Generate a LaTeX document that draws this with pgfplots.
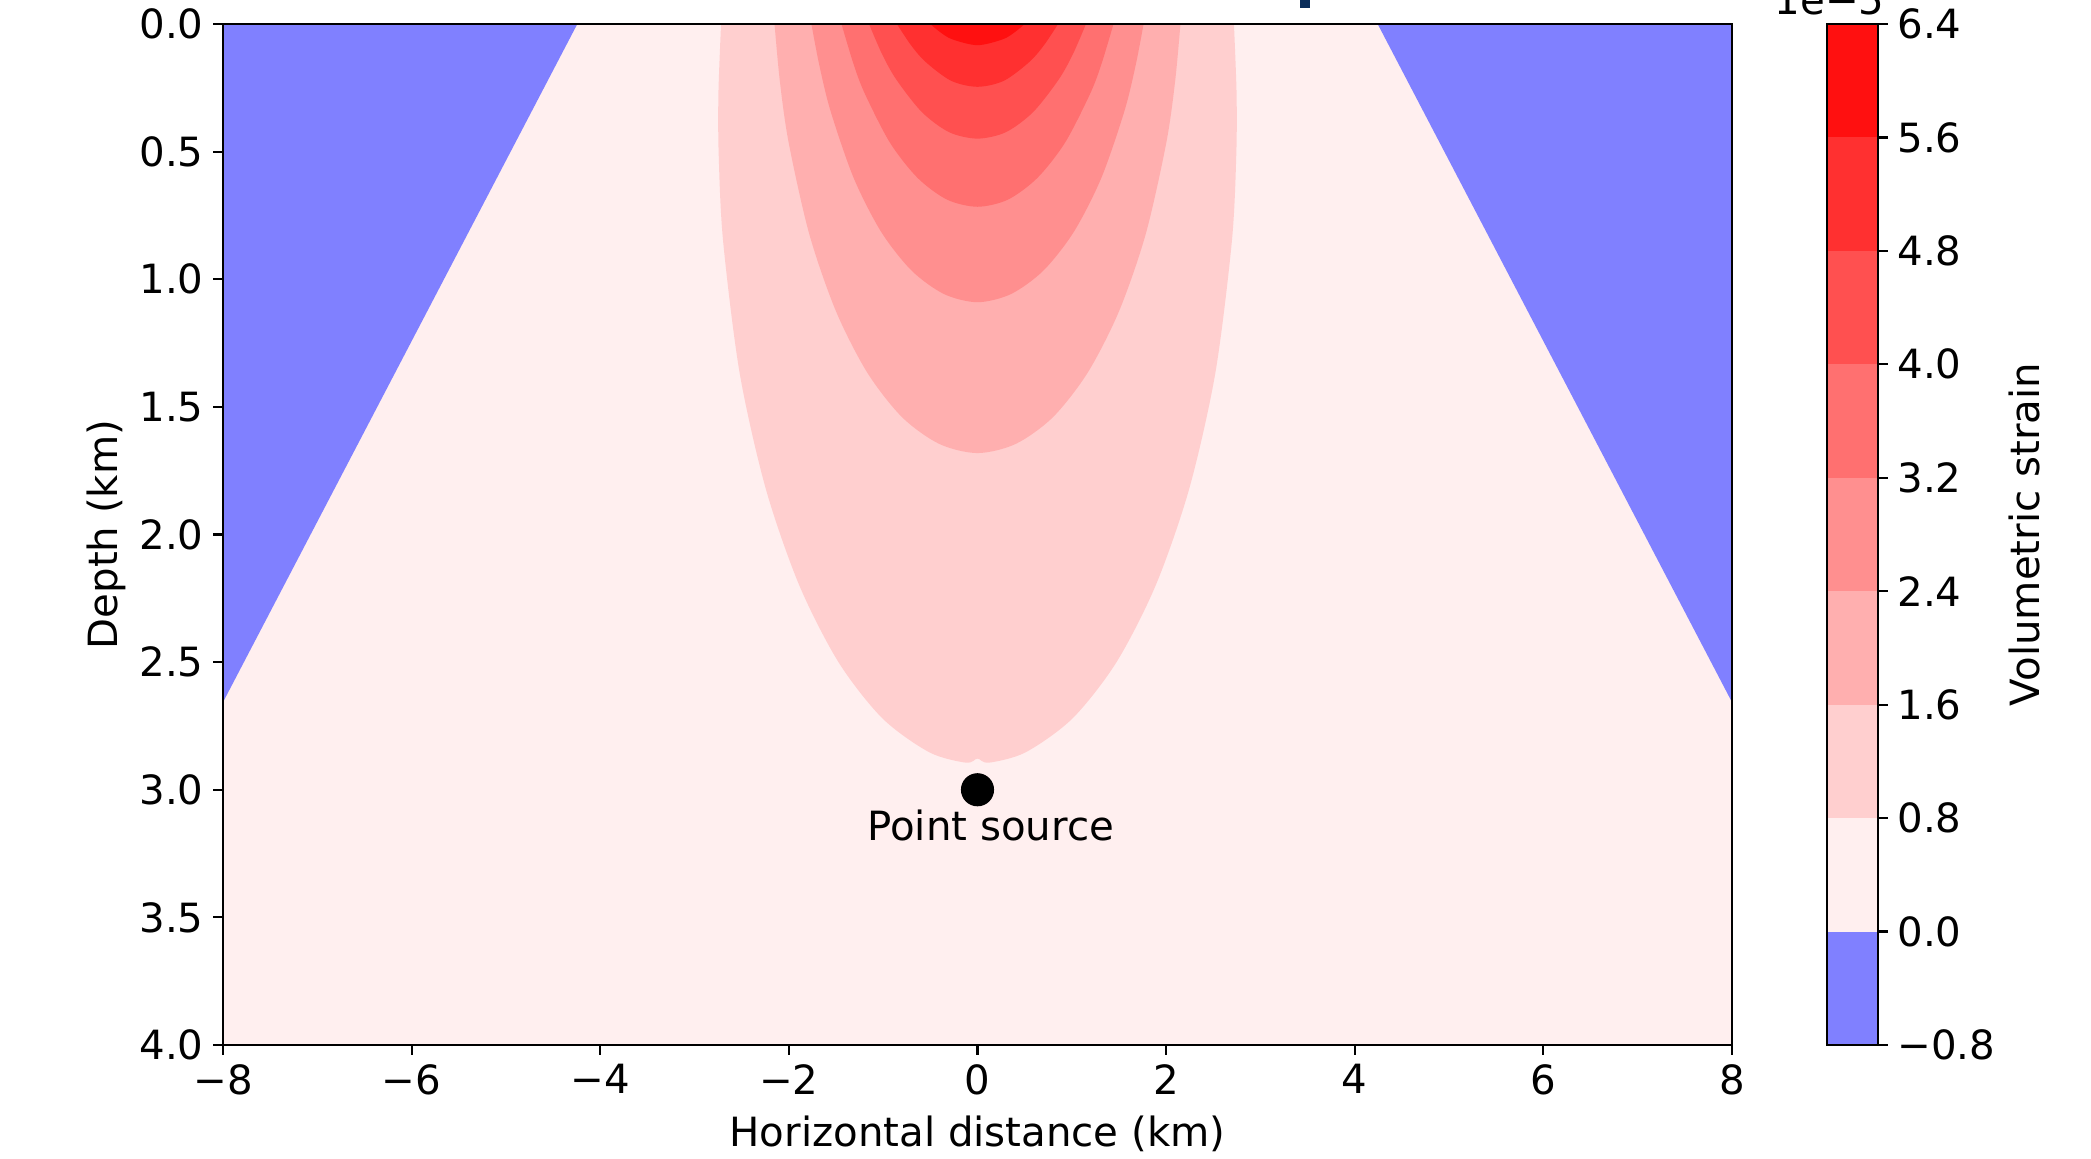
\documentclass[border=0pt]{standalone}
\usepackage{pgfplots}
\pgfplotsset{compat=1.18}
\usepackage{fontspec}
\setmainfont{DejaVu Sans}
\definecolor{cneg}{RGB}{128,128,255}
\definecolor{c0}{RGB}{255,239,239}
\definecolor{c1}{RGB}{255,207,207}
\definecolor{c2}{RGB}{255,175,175}
\definecolor{c3}{RGB}{255,143,143}
\definecolor{c4}{RGB}{255,112,112}
\definecolor{c5}{RGB}{255,80,80}
\definecolor{c6}{RGB}{255,48,48}
\definecolor{c7}{RGB}{255,16,16}
\definecolor{titlenavy}{RGB}{10,45,90}
\begin{document}
\begin{tikzpicture}[font=\fontsize{14.5pt}{17pt}\selectfont]
\useasboundingbox (-80.28pt,-41.04pt) rectangle (672.48pt,376.2pt);
\clip (-80.28pt,-41.04pt) rectangle (672.48pt,376.2pt);
\pgfplotsset{
  every axis/.append style={
    tick align=outside,
    major tick length=3.5pt,
    every tick/.style={black, line width=0.8pt},
    axis line style={black, line width=0.8pt},
  }
}
\begin{axis}[
  name=main,
  at={(0pt,0pt)}, anchor=south west,
  width=543.24pt, height=367.56pt, scale only axis,
  xmin=-8, xmax=8, ymin=0, ymax=4, y dir=reverse,
  axis background/.style={fill=c0},
  axis on top,
  xtick={-8,-6,-4,-2,0,2,4,6,8},
  xticklabels={−8,−6,−4,−2,0,2,4,6,8},
  ytick={0,0.5,1,1.5,2,2.5,3,3.5,4},
  yticklabels={0.0,0.5,1.0,1.5,2.0,2.5,3.0,3.5,4.0},
  xtick pos=bottom, ytick pos=left,
  xlabel={Horizontal distance (km)},
  ylabel={Depth (km)},
  every axis x label/.style={at={(axis description cs:0.5,-0.0867)}, anchor=center},
  every axis y label/.style={at={(axis description cs:-0.0771,0.5)}, rotate=90, anchor=center},
]
% negative strain (blue) wedges
\addplot[fill=cneg, draw=none] coordinates {(-8,0) (-4.243,0) (-8,2.657)};
\addplot[fill=cneg, draw=none] coordinates {(8,0) (4.243,0) (8,2.657)};
% level 0.8e-5
\addplot[fill=c1, draw=none, smooth] coordinates {
 (-2.719,0) (-2.747,0.273) (-2.744,0.512) (-2.697,0.852) (-2.522,1.367) (-2.247,1.818)
 (-1.892,2.197) (-1.474,2.500) (-1.009,2.720) (-0.512,2.853) (-0.12,2.894) (0,2.878)
 (0.12,2.894) (0.512,2.853) (1.009,2.720) (1.474,2.500) (1.892,2.197) (2.247,1.818)
 (2.522,1.367) (2.697,0.852) (2.744,0.512) (2.747,0.273) (2.719,0)};
% level 1.6e-5
\addplot[fill=c2, draw=none, smooth] coordinates {
 (-2.152,0) (-2.095,0.226) (-2.001,0.467) (-1.783,0.824) (-1.501,1.125) (-1.170,1.365)
 (-0.801,1.540) (-0.406,1.645) (0,1.681) (0.406,1.645) (0.801,1.540) (1.170,1.365)
 (1.501,1.125) (1.783,0.824) (2.001,0.467) (2.095,0.226) (2.152,0)};
% level 2.4e-5
\addplot[fill=c3, draw=none, smooth] coordinates {
 (-1.761,0) (-1.679,0.158) (-1.558,0.341) (-1.312,0.604) (-1.022,0.814) (-0.699,0.966)
 (-0.355,1.058) (0,1.090) (0.355,1.058) (0.699,0.966) (1.022,0.814) (1.312,0.604)
 (1.558,0.341) (1.679,0.158) (1.761,0)};
% level 3.2e-5
\addplot[fill=c4, draw=none, smooth] coordinates {
 (-1.442,0) (-1.310,0.162) (-1.192,0.275) (-0.928,0.465) (-0.635,0.603) (-0.323,0.688)
 (0,0.716) (0.323,0.688) (0.635,0.603) (0.928,0.465) (1.192,0.275) (1.310,0.162) (1.442,0)};
% level 4.0e-5
\addplot[fill=c5, draw=none, smooth] coordinates {
 (-1.150,0) (-1.013,0.117) (-0.862,0.217) (-0.590,0.345) (-0.300,0.424) (0,0.449)
 (0.300,0.424) (0.590,0.345) (0.862,0.217) (1.013,0.117) (1.150,0)};
% level 4.8e-5
\addplot[fill=c6, draw=none, smooth] coordinates {
 (-0.854,0) (-0.711,0.080) (-0.555,0.147) (-0.282,0.222) (0,0.246)
 (0.282,0.222) (0.555,0.147) (0.711,0.080) (0.854,0)};
% level 5.6e-5
\addplot[fill=c7, draw=none, smooth] coordinates {
 (-0.500,0) (-0.399,0.031) (-0.268,0.060) (0,0.083) (0.268,0.060) (0.399,0.031) (0.500,0)};
% point source
\addplot[only marks, mark=*, mark size=5.76pt, mark options={fill=black, draw=black}] coordinates {(0,3)};
\node[anchor=base] at (axis cs:0.14,3.2) {Point source};
\end{axis}
\begin{axis}[
  at={(577.44pt,0pt)}, anchor=south west,
  width=18.36pt, height=367.56pt, scale only axis,
  xmin=0, xmax=1, ymin=-0.8, ymax=6.4,
  xtick=\empty,
  ytick={-0.8,0,0.8,1.6,2.4,3.2,4.0,4.8,5.6,6.4},
  yticklabels={−0.8,0.0,0.8,1.6,2.4,3.2,4.0,4.8,5.6,6.4},
  ytick pos=right, yticklabel pos=right,
  axis on top,
  ylabel={Volumetric strain},
  every axis y label/.style={at={(axis description cs:3.88,0.5)}, rotate=90, anchor=center},
]
\addplot[fill=cneg, draw=none] coordinates {(0,-0.8) (1,-0.8) (1,0) (0,0)};
\addplot[fill=c0, draw=none] coordinates {(0,0) (1,0) (1,0.8) (0,0.8)};
\addplot[fill=c1, draw=none] coordinates {(0,0.8) (1,0.8) (1,1.6) (0,1.6)};
\addplot[fill=c2, draw=none] coordinates {(0,1.6) (1,1.6) (1,2.4) (0,2.4)};
\addplot[fill=c3, draw=none] coordinates {(0,2.4) (1,2.4) (1,3.2) (0,3.2)};
\addplot[fill=c4, draw=none] coordinates {(0,3.2) (1,3.2) (1,4.0) (0,4.0)};
\addplot[fill=c5, draw=none] coordinates {(0,4.0) (1,4.0) (1,4.8) (0,4.8)};
\addplot[fill=c6, draw=none] coordinates {(0,4.8) (1,4.8) (1,5.6) (0,5.6)};
\addplot[fill=c7, draw=none] coordinates {(0,5.6) (1,5.6) (1,6.4) (0,6.4)};
\end{axis}
\node[anchor=base west] at (555.1pt,370.8pt) {1e−5};
\fill[titlenavy] (387.7pt,373.3pt) rectangle (391.3pt,380pt);
\end{tikzpicture}
\end{document}
